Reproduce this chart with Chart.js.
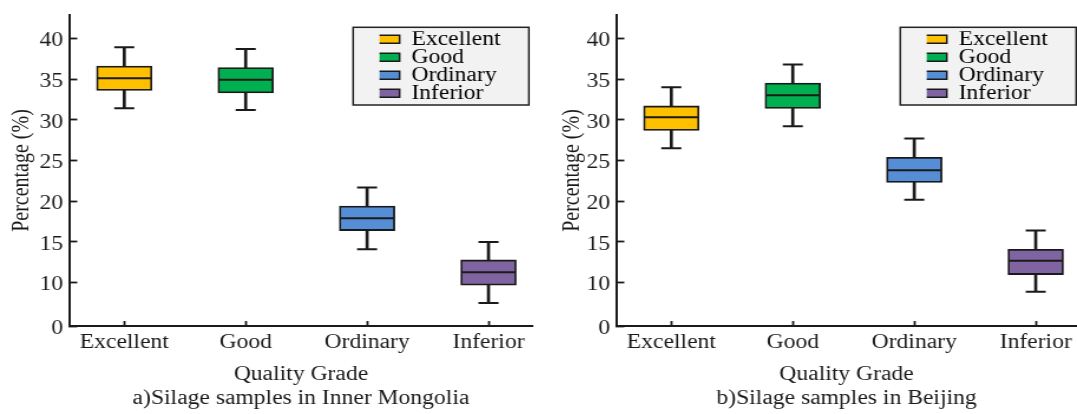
<!DOCTYPE html>
<html>
<head>
<meta charset="utf-8">
<script src="https://cdn.jsdelivr.net/npm/chart.js@4"></script>
<style>
  html, body { margin: 0; padding: 0; background: #fff; overflow: hidden; width: 1077px; height: 414px; }
  canvas { position: absolute; top: 0; }
</style>
</head>
<body>
<!-- Each panel is drawn on a narrower bitmap and widened by CSS, giving the figure's wide letterforms -->
<canvas id="panelA" width="456" height="414" style="left:0px;width:538px;height:414px;"></canvas>
<canvas id="panelB" width="449" height="414" style="left:547px;width:530px;height:414px;"></canvas>
<script>
// ---- Data -----------------------------------------------------------------
const categories = ['Excellent', 'Good', 'Ordinary', 'Inferior'];
const boxColors  = ['#FFC000', '#00B050', '#558ED5', '#8064A2'];

// a) Inner Mongolia: whisker low, Q1, median, Q3, whisker high (%)
const mongoliaLow    = [31.4, 31.2, 14.1, 7.5];
const mongoliaQ1     = [33.6, 33.3, 16.4, 9.7];
const mongoliaMedian = [35.1, 34.9, 17.9, 11.3];
const mongoliaQ3     = [36.6, 36.4, 19.4, 12.8];
const mongoliaHigh   = [38.9, 38.7, 21.7, 15.0];

// b) Beijing
const beijingLow    = [26.5, 29.2, 20.2, 8.9];
const beijingQ1     = [28.7, 31.4, 22.3, 11.0];
const beijingMedian = [30.3, 33.0, 23.8, 12.7];
const beijingQ3     = [31.7, 34.5, 25.4, 14.1];
const beijingHigh   = [34.0, 36.8, 27.7, 16.4];

// Y axis is broken below 10: the axis floor carries the "0" label
const yAxisFloor  = 4.69;
const yAxisTop    = 42.86;
const yTickValues = [yAxisFloor, 10, 15, 20, 25, 30, 35, 40];
const yTickLabels = ['0', '10', '15', '20', '25', '30', '35', '40'];

// ---- Styling ---------------------------------------------------------------
const INK = '#1a1a1a';
Chart.defaults.font.family = "'Liberation Serif', 'Times New Roman', serif";
Chart.defaults.font.size = 20;
Chart.defaults.color = INK;

// Places the legend at a fixed spot and paints its framed grey panel
const legendFrame = {
  id: 'legendFrame',
  afterLayout(chart, args, o) {
    const lg = chart.legend;
    if (!lg) return;
    lg.left = o.itemsLeft;
    lg.top = o.itemsTop;
  },
  beforeDraw(chart, args, o) {
    const ctx = chart.ctx;
    ctx.save();
    ctx.fillStyle = o.fill;
    ctx.strokeStyle = o.stroke;
    ctx.lineWidth = o.lineWidth;
    ctx.fillRect(o.left, o.top, o.width, o.height);
    ctx.strokeRect(o.left, o.top, o.width, o.height);
    ctx.restore();
  }
};

function buildPanel(canvasId, s, caption, layout) {
  const idx = categories.map((c, i) => i + 1);

  const whiskers = idx.map((x, i) => ({ x, y: [s.low[i], s.high[i]] }));
  const boxes    = idx.map((x, i) => ({ x, y: [s.q1[i], s.q3[i]] }));
  const caps     = idx.flatMap((x, i) => [{ x, y: s.low[i] }, { x, y: s.high[i] }]);
  const medians  = idx.map((x, i) => ({ x, y: s.median[i] }));

  return new Chart(document.getElementById(canvasId), {
    type: 'bar',
    data: {
      datasets: [
        { type: 'bar', data: whiskers, backgroundColor: INK, borderWidth: 0,
          barThickness: 2, grouped: false, order: 3 },
        { type: 'bar', data: boxes, backgroundColor: boxColors, borderColor: INK,
          borderWidth: 1.8, borderSkipped: false, barThickness: 47, grouped: false, order: 2 },
        { type: 'line', data: caps, showLine: false, pointStyle: 'line', pointRadius: 8.5,
          pointBorderWidth: 2, pointBorderColor: INK, pointBackgroundColor: INK, order: 1 },
        { type: 'line', data: medians, showLine: false, pointStyle: 'line', pointRadius: 22.5,
          pointBorderWidth: 2, pointBorderColor: INK, pointBackgroundColor: INK, order: 0 }
      ]
    },
    options: {
      responsive: false,
      devicePixelRatio: 1,
      animation: false,
      events: [],
      layout: { autoPadding: false, padding: { top: 15, right: layout.padRight, bottom: 0, left: 0 } },
      scales: {
        x: {
          type: 'linear',
          min: 0.545,
          max: layout.xMax,
          offset: false,
          afterBuildTicks: sc => { sc.ticks = idx.map(v => ({ value: v })); },
          afterFit: sc => { sc.height = 88; sc.paddingLeft = 0; sc.paddingRight = 0; },
          ticks: {
            autoSkip: false, maxRotation: 0, padding: 10, color: INK,
            callback: v => categories[v - 1] ?? ''
          },
          grid: { offset: false, drawOnChartArea: false, tickLength: -5, tickWidth: 1.8, color: INK },
          border: { display: true, color: INK, width: 2 },
          title: {
            display: true,
            text: ['Quality Grade', caption],
            color: INK,
            padding: { top: 0, bottom: 3 },
            font: { size: 20, lineHeight: 1.2 }
          }
        },
        y: {
          type: 'linear',
          min: yAxisFloor,
          max: yAxisTop,
          afterBuildTicks: sc => { sc.ticks = yTickValues.map(v => ({ value: v })); },
          afterFit: sc => { sc.width = 58.5; sc.paddingTop = 0; sc.paddingBottom = 0; },
          ticks: {
            autoSkip: false, padding: 12, labelOffset: 2.5, color: INK,
            callback: (v, i) => yTickLabels[i]
          },
          grid: { drawOnChartArea: false, tickLength: -7, tickWidth: 1.8, color: INK },
          border: { display: true, color: INK, width: 2 },
          title: {
            display: true,
            text: 'Percentage (%)',
            color: INK,
            padding: { top: layout.yTitlePad, bottom: 0 },
            font: { size: 20, lineHeight: 1.2 }
          }
        }
      },
      plugins: {
        tooltip: { enabled: false },
        legend: {
          position: 'chartArea',
          align: 'start',
          labels: {
            boxWidth: 19,
            boxHeight: 8,
            padding: -2,
            color: INK,
            font: { size: 20 },
            generateLabels: () => categories.map((text, i) => ({
              text,
              fillStyle: boxColors[i],
              strokeStyle: INK,
              lineWidth: 1.5,
              hidden: false,
              index: i,
              datasetIndex: 1
            }))
          }
        },
        legendFrame: {
          itemsLeft: 321.7, itemsTop: 31.3,
          left: 299.3, top: 27.3, width: 149, height: 77.7,
          fill: '#f2f2f2', stroke: '#222222', lineWidth: 1.5
        }
      }
    },
    plugins: [legendFrame]
  });
}

buildPanel('panelA',
  { low: mongoliaLow, q1: mongoliaQ1, median: mongoliaMedian, q3: mongoliaQ3, high: mongoliaHigh },
  'a)Silage samples in Inner Mongolia',
  { xMax: 4.366, padRight: 4.3, yTitlePad: 7 });

buildPanel('panelB',
  { low: beijingLow, q1: beijingQ1, median: beijingMedian, q3: beijingQ3, high: beijingHigh },
  'b)Silage samples in Beijing',
  { xMax: 4.340, padRight: 0, yTitlePad: 10 });
</script>
</body>
</html>
